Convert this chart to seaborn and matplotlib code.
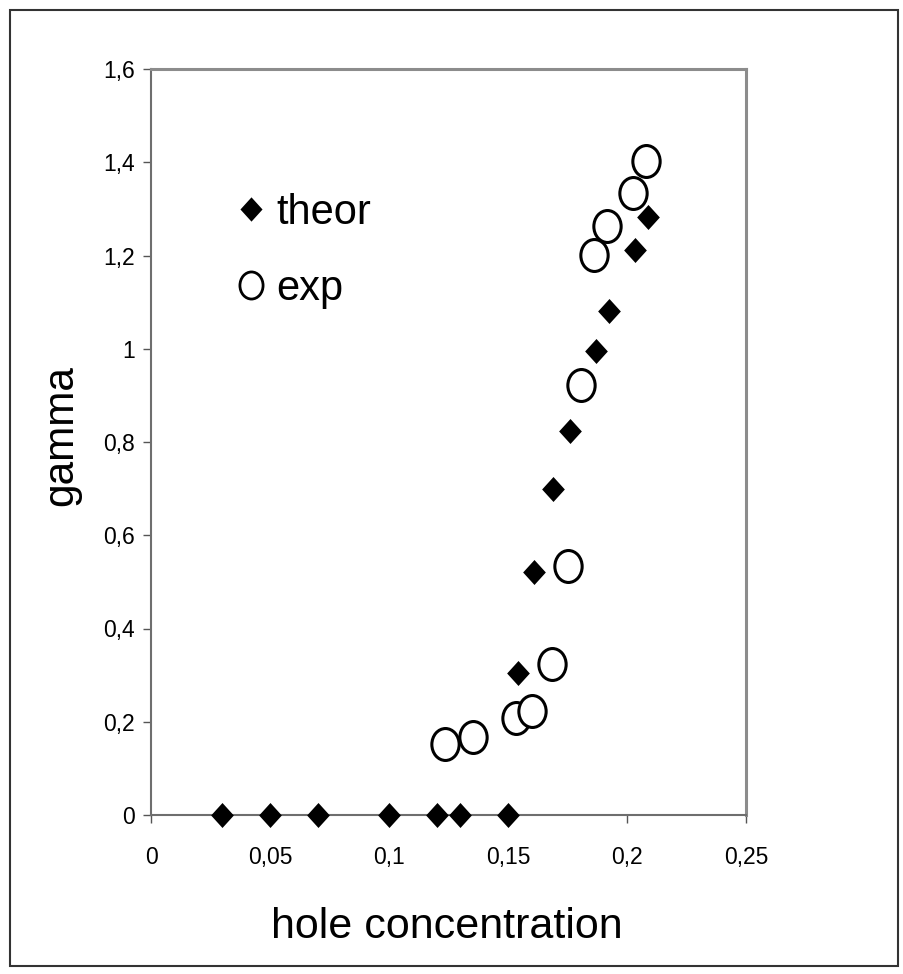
import matplotlib
matplotlib.use("Agg")
import matplotlib.pyplot as plt
import seaborn as sns
from matplotlib.path import Path
from matplotlib.transforms import Affine2D
from matplotlib.lines import Line2D
from matplotlib.patches import Rectangle

# Calculated gamma versus hole concentration
theor_x = [0.03, 0.05, 0.07, 0.10, 0.12, 0.13, 0.15, 0.154, 0.161, 0.169, 0.176, 0.187, 0.1925, 0.2035, 0.209]
theor_y = [0.0, 0.0, 0.0, 0.0, 0.0, 0.0, 0.0, 0.304, 0.522, 0.700, 0.823, 0.995, 1.080, 1.212, 1.283]

# Measured gamma
exp_x = [0.1235, 0.1355, 0.1535, 0.1602, 0.1684, 0.1754, 0.1808, 0.1914, 0.1861, 0.2027, 0.2081]
exp_y = [0.152, 0.167, 0.207, 0.222, 0.323, 0.533, 0.922, 1.263, 1.201, 1.333, 1.403]

series_labels = ["theor", "exp"]
x_ticks = [0, 0.05, 0.10, 0.15, 0.20, 0.25]
x_tick_labels = ["0", "0,05", "0,1", "0,15", "0,2", "0,25"]
y_ticks = [0, 0.2, 0.4, 0.6, 0.8, 1.0, 1.2, 1.4, 1.6]
y_tick_labels = ["0", "0,2", "0,4", "0,6", "0,8", "1", "1,2", "1,4", "1,6"]
x_label = "hole concentration"
y_label = "gamma"

sns.set_theme(style="white")
plt.rcParams["font.family"] = ["Liberation Sans", "DejaVu Sans"]
plt.rcParams["text.color"] = "black"

W, H = 904, 974
fig = plt.figure(figsize=(W / 100, H / 100), dpi=100)
fig.patch.set_facecolor("white")
ax = fig.add_axes([151 / W, 1 - 815 / H, 595 / W, 746 / H])

# slightly tall marker shapes
ellipse = Path.unit_circle().transformed(Affine2D().scale(1.0, 1.17))
diamond = Path([(0, -1.1), (1, 0), (0, 1.1), (-1, 0), (0, -1.1)],
               [Path.MOVETO, Path.LINETO, Path.LINETO, Path.LINETO, Path.CLOSEPOLY])

sns.scatterplot(x=theor_x, y=theor_y, marker=diamond, s=18 ** 2, color="black",
                linewidth=0, ax=ax, clip_on=False, zorder=3)
sns.scatterplot(x=exp_x, y=exp_y, marker=ellipse, s=23 ** 2, color="white",
                edgecolor="black", linewidth=2.2, ax=ax, clip_on=False, zorder=4)

ax.set_xlim(0, 0.25)
ax.set_ylim(0, 1.6)
ax.set_xticks(x_ticks, x_tick_labels)
ax.set_yticks(y_ticks, y_tick_labels)
ax.set_xlabel("")
ax.set_ylabel("")

for side in ("left", "bottom"):
    ax.spines[side].set_color("#6e6e6e")
    ax.spines[side].set_linewidth(1.5)
for side in ("top", "right"):
    ax.spines[side].set_color("#8c8c8c")
    ax.spines[side].set_linewidth(2.2)

ax.tick_params(axis="both", direction="out", length=5.5, width=1.0, color="#555555",
               labelsize=16.5, labelcolor="black", bottom=True, left=True)
ax.tick_params(axis="x", pad=17)
ax.tick_params(axis="y", pad=6)

fig.text(447 / W, 1 - 938 / H, x_label, fontsize=31, ha="center", va="baseline",
         color="black")
fig.text(72 / W, 1 - 436 / H, y_label, fontsize=30.5, rotation=90,
         rotation_mode="anchor", ha="center", va="baseline", color="black")

h_theor = Line2D([], [], linestyle="none", marker=diamond, markersize=17.5,
                 markerfacecolor="black", markeredgewidth=0)
h_exp = Line2D([], [], linestyle="none", marker=ellipse, markersize=19.5,
               markerfacecolor="white", markeredgecolor="black", markeredgewidth=2.0)
leg = ax.legend([h_theor, h_exp], series_labels, loc="upper left",
                bbox_to_anchor=(241 / W, 1 - 193 / H), bbox_transform=fig.transFigure,
                frameon=False, prop={"size": 30}, handlelength=0.5, handletextpad=0.34,
                labelspacing=0.86, borderpad=0, borderaxespad=0)
for t in leg.get_texts():
    t.set_color("black")

fig.patches.append(Rectangle((10 / W, 8 / H), 888 / W, 956 / H, transform=fig.transFigure,
                             fill=False, edgecolor="#333333", linewidth=1.5))

fig.savefig("out.png", dpi=100)
